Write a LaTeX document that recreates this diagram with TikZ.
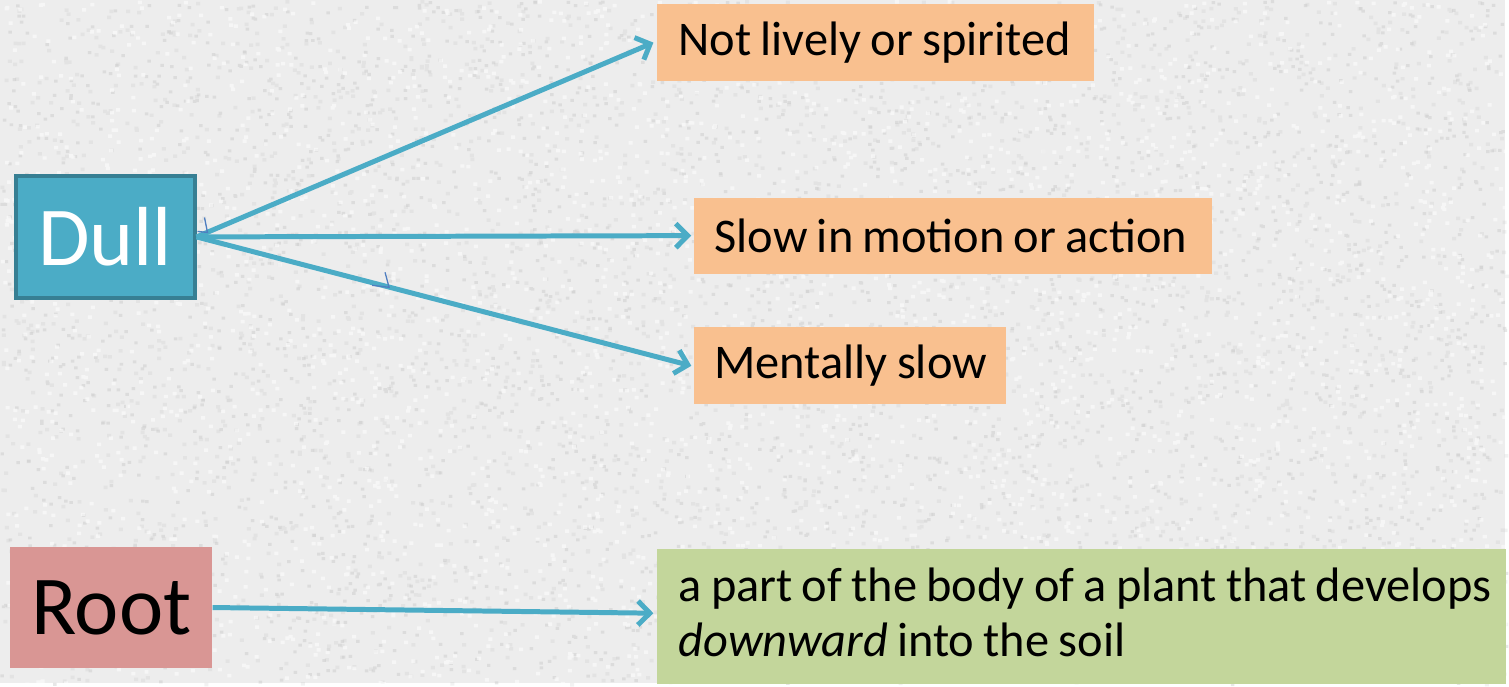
\documentclass[tikz,border=0pt]{standalone}
\usepackage{fontspec}
\setmainfont{Carlito}[WordSpace=0.85]
\usetikzlibrary{arrows.meta}
\definecolor{bgpaper}{HTML}{EDEDED}
\definecolor{speck}{HTML}{C4C4C4}
\definecolor{dullfill}{HTML}{4BACC6}
\definecolor{dullline}{HTML}{377F93}
\definecolor{peach}{HTML}{F9C08F}
\definecolor{rosefill}{HTML}{D99694}
\definecolor{sagefill}{HTML}{C3D69B}
\definecolor{tickblue}{HTML}{4F7EC0}
\tikzset{
  wordbox/.style={rectangle, inner sep=0pt, minimum width=#1, font=\fontsize{84}{90}\selectfont},
  defbox/.style={rectangle, fill=peach, inner sep=0pt, anchor=north west,
    align=flush left, font=\fontsize{48.5}{55}\selectfont},
  link/.style={draw=dullfill, line width=5pt,
    -{Straight Barb[length=12pt,width=24pt,line width=5pt]}},
  tick/.style={draw=tickblue, line width=1.3pt}
}
\begin{document}
\begin{tikzpicture}[x=1pt,y=-1pt]
  % textured paper background
  \fill[bgpaper] (0,0) rectangle (1509,685);
  \pgfmathsetseed{4217}
  \fill[speck, opacity=0.4] \foreach \i in {1,...,3000}{
    ({rnd*1509},{rnd*685}) rectangle ++(3.5,3)};
  \fill[speck, opacity=0.22] \foreach \i in {1,...,3000}{
    ({rnd*1509},{rnd*685}) rectangle ++(4,3.5)};
  \fill[white, opacity=0.55] \foreach \i in {1,...,3000}{
    ({rnd*1509},{rnd*685}) rectangle ++(4,3.5)};
  \useasboundingbox (0,0) rectangle (1509,685);

  % headwords
  \node[wordbox=179pt, minimum height=123pt, fill=dullfill, draw=dullline,
        line width=4pt, text=white] (dull) at (105.5,237.5) {Dull};
  \node[wordbox=203pt, minimum height=122pt, fill=rosefill] (root) at (111.5,609) {Root};

  % definitions
  \node[defbox, minimum width=438pt, minimum height=77pt, text width=394pt]
        (lively) at (658,4) {\mbox{Not lively or spirited}};
  \node[defbox, minimum width=520pt, minimum height=76pt, text width=478pt]
        (motion) at (695,198) {\mbox{Slow in motion or action}};
  \node[defbox, minimum width=313pt, minimum height=77pt, text width=271pt]
        (mental) at (695,328) {\mbox{Mentally slow}};
  \node[rectangle, fill=sagefill, inner sep=0pt, anchor=north west,
        minimum width=851pt, minimum height=135pt] (soil) at (658,550) {};
  \node[anchor=north west, inner sep=0pt, align=left,
        font=\fontsize{48.5}{55}\selectfont] (soiltext) at (680,569)
        {a part of the body of a plant that develops\\\textit{downward} into the soil};

  % connectors
  \draw[link] (dull.east) -- ([xshift=-3pt]lively.west);
  \draw[link] (dull.east) -- ([xshift=-2pt]motion.west);
  \draw[link] (dull.east) -- ([xshift=-2pt]mental.west);
  \draw[link] (root.east) -- ([xshift=-3pt,yshift=3pt]soil.west);

  % small pen strokes on the connectors
  \coordinate (ta) at (205,218);
  \coordinate (tb) at (208,233);
  \coordinate (tc) at (198,232);
  \draw[tick] (ta) -- (tb) -- (tc);
  \coordinate (td) at (386,273);
  \coordinate (te) at (390,288);
  \coordinate (tf) at (373,286);
  \draw[tick] (td) -- (te) -- (tf);
\end{tikzpicture}
\end{document}
